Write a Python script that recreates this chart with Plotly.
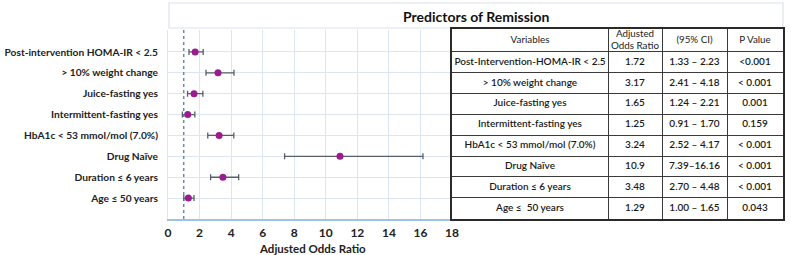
import plotly.graph_objects as go

# ---- data ----
variables_plot = [
    "Post-intervention HOMA-IR < 2.5",
    "> 10% weight change",
    "Juice-fasting yes",
    "Intermittent-fasting yes",
    "HbA1c < 53 mmol/mol (7.0%)",
    "Drug Naïve",
    "Duration ≤ 6 years",
    "Age ≤ 50 years",
]
variables_table = [
    "Post-Intervention-HOMA-IR < 2.5",
    "> 10% weight change",
    "Juice-fasting yes",
    "Intermittent-fasting yes",
    "HbA1c < 53 mmol/mol (7.0%)",
    "Drug Naïve",
    "Duration ≤ 6 years",
    "Age ≤  50 years",
]
odds_ratio = [1.72, 3.17, 1.65, 1.25, 3.24, 10.9, 3.48, 1.29]
ci_low = [1.33, 2.41, 1.24, 0.91, 2.52, 7.39, 2.70, 1.00]
ci_high = [2.23, 4.18, 2.21, 1.70, 4.17, 16.16, 4.48, 1.65]
ci_text = ["1.33 – 2.23", "2.41 – 4.18", "1.24 – 2.21", "0.91 – 1.70",
           "2.52 – 4.17", "7.39–16.16", "2.70 – 4.48", "1.00 – 1.65"]
or_text = ["1.72", "3.17", "1.65", "1.25", "3.24", "10.9", "3.48", "1.29"]
p_text = ["<0.001", "< 0.001", "0.001", "0.159", "< 0.001", "< 0.001", "< 0.001", "0.043"]
headers = ["Variables", "Adjusted<br>Odds Ratio", "(95% CI)", "P Value"]
x_ticks = [0, 2, 4, 6, 8, 10, 12, 14, 16, 18]
title = "Predictors of Remission"
x_title = "Adjusted Odds Ratio"

W, H = 791, 255
FONT = "Lato, 'Open Sans', sans-serif"

def px(x):
    return x / W

def py(y):
    return 1 - y / H

rows = list(range(len(variables_plot)))
err_plus = [h - o for h, o in zip(ci_high, odds_ratio)]
err_minus = [o - l for o, l in zip(odds_ratio, ci_low)]

fig = go.Figure()

# ---- forest plot ----
fig.add_trace(go.Scatter(
    x=odds_ratio, y=rows, mode="markers",
    marker=dict(color="#9A1C8E", size=7),
    error_x=dict(type="data", array=err_plus, arrayminus=err_minus,
                 color="#56606B", thickness=1.3, width=3),
    showlegend=False, hoverinfo="skip",
))

# ---- table drawn on its own axes (column widths in px units, rows in row units) ----
col_edges = [0, 156, 210, 275, 331]
col_centers = [(a + b) / 2 for a, b in zip(col_edges[:-1], col_edges[1:])]
header_top = -1.1
table_cols = [variables_table, or_text, ci_text, p_text]
for ci, col in enumerate(table_cols):
    fig.add_trace(go.Scatter(
        x=[col_centers[ci]] * len(col), y=[r + 0.5 for r in rows],
        mode="text", text=col, textposition="middle center",
        textfont=dict(family=FONT, size=10, color="#1A1A1A", weight=600),
        xaxis="x2", yaxis="y2", showlegend=False, hoverinfo="skip",
    ))
fig.add_trace(go.Scatter(
    x=col_centers, y=[header_top / 2] * len(headers),
    mode="text", text=headers, textposition="middle center",
    textfont=dict(family=FONT, size=9.8, color="#222222"),
    xaxis="x2", yaxis="y2", showlegend=False, hoverinfo="skip",
))

# reference line at OR = 1
fig.add_shape(type="line", xref="x", yref="y", x0=1, x1=1, y0=-1.05, y1=8,
              line=dict(color="#4F6F8F", width=1.2, dash="dot"))

# title box
fig.add_shape(type="rect", xref="paper", yref="paper",
              x0=px(169), x1=px(783), y0=py(28), y1=py(3),
              line=dict(color="#DCE3EC", width=1.2), fillcolor="white", layer="below")
fig.add_annotation(x=px(476), y=py(16), xref="paper", yref="paper",
                   xanchor="center", yanchor="middle",
                   text=f"<b>{title}</b>", showarrow=False,
                   font=dict(family=FONT, size=14, color="#111111"))
# x-axis title
fig.add_annotation(x=px(312), y=py(248), xref="paper", yref="paper",
                   xanchor="center", yanchor="middle",
                   text=f"<b>{x_title}</b>", showarrow=False,
                   font=dict(family=FONT, size=11.5, color="#222222"))

fig.update_layout(
    width=W, height=H,
    margin=dict(l=0, r=0, t=0, b=0),
    paper_bgcolor="white", plot_bgcolor="white",
    font=dict(family=FONT, color="#222222"),
    xaxis=dict(domain=[px(168), px(452)], range=[0, 18], automargin=False,
               tickvals=x_ticks, ticktext=[str(t) for t in x_ticks],
               tickfont=dict(size=12, color="#222222", weight=700),
               showgrid=True, gridcolor="#DCE6F2", gridwidth=1,
               zeroline=False, showline=True, linecolor="#9DC3E6", linewidth=2,
               ticks="", ticklen=0, ticklabelstandoff=2),
    yaxis=dict(domain=[py(219), py(30)], range=[8, -1.05], automargin=False,
               tickvals=rows, ticktext=variables_plot,
               tickfont=dict(size=10.2, color="#222222", weight=700),
               showgrid=True, gridcolor="#DCE6F2", gridwidth=1,
               zeroline=False, showline=True, linecolor="#DCE6F2", linewidth=1,
               ticks="", ticklen=0, ticklabelstandoff=7),
    xaxis2=dict(domain=[px(452), px(783)], range=[col_edges[0], col_edges[-1]],
                anchor="y2", automargin=False,
                tickvals=col_edges, showticklabels=False, ticks="",
                showgrid=True, gridcolor="#3A3A3A", gridwidth=1,
                zeroline=False, showline=True, mirror=True,
                linecolor="#2A2A2A", linewidth=1.5, fixedrange=True),
    yaxis2=dict(domain=[py(218.5), py(29)], range=[len(rows), header_top],
                anchor="x2", automargin=False,
                tickvals=[header_top] + list(range(len(rows) + 1)),
                showticklabels=False, ticks="",
                showgrid=True, gridcolor="#3A3A3A", gridwidth=1,
                zeroline=False, showline=True, mirror=True,
                linecolor="#2A2A2A", linewidth=1.5, fixedrange=True),
)

fig.write_html("out.html")
